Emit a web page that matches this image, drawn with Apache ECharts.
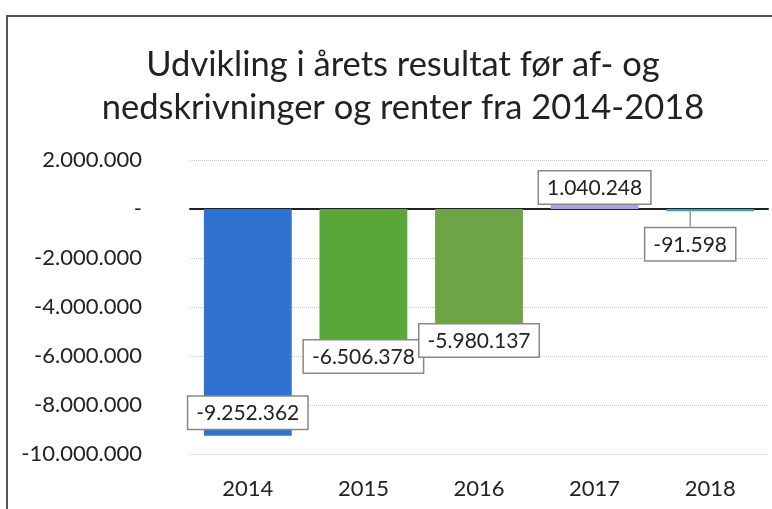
<!DOCTYPE html>
<html>
<head>
<meta charset="utf-8">
<script src="https://cdn.jsdelivr.net/npm/echarts@6/dist/echarts.min.js"></script>
<style>
  html, body { margin: 0; padding: 0; background: #fff; }
  #chart { width: 772px; height: 509px; }
</style>
</head>
<body>
<div id="chart"></div>
<script>
// data
const years = ['2014', '2015', '2016', '2017', '2018'];
const resultat = [-9252362, -6506378, -5980137, 1040248, -91598];
const barColors = ['#2f72cf', '#5aa739', '#6fa446', '#a3a3ea', '#36a3b6'];
const titleLines = ['Udvikling i årets resultat før af- og', 'nedskrivninger og renter fra 2014-2018'];

function dkNum(v) {
  if (v === 0) return '-';
  const s = Math.abs(Math.round(v)).toString().replace(/\B(?=(\d{3})+(?!\d))/g, '.');
  return (v < 0 ? '-' : '') + s;
}

const labelBox = {
  show: true,
  color: '#222',
  fontFamily: 'Lato',
  fontSize: 21,
  backgroundColor: '#fff',
  borderColor: '#888',
  borderWidth: 1.5,
  padding: [6, 8, 5, 8],
  formatter: p => dkNum(p.value)
};

const labelPos = [
  { position: 'insideBottom', distance: 7 },
  { position: 'insideBottom', distance: -4 },
  { position: 'insideBottom', distance: -1 },
  { position: 'top', distance: -20 },
  { position: 'bottom', distance: 17 }
];

const chart = echarts.init(document.getElementById('chart'));
chart.setOption({
  backgroundColor: '#fff',
  animation: false,
  title: {
    text: titleLines.join('\n'),
    left: 398,
    textAlign: 'center',
    top: 38,
    textStyle: { fontFamily: 'Lato', fontWeight: 'normal', fontSize: 34.5, lineHeight: 43, color: '#222' }
  },
  graphic: [{
    type: 'polyline',
    shape: { points: [[7, 509], [7, 16], [772, 16]] },
    style: { stroke: '#555', lineWidth: 2, fill: null }
  }],
  grid: { left: 190, right: 4, top: 160, bottom: 55 },
  xAxis: [{
    type: 'category',
    data: years,
    axisLine: { onZero: true, lineStyle: { color: '#222', width: 2 } },
    axisTick: { show: false },
    axisLabel: { show: false }
  }, {
    // second axis only carries the year labels below the plot area
    type: 'category',
    data: years,
    position: 'bottom',
    axisLine: { show: false },
    axisTick: { show: false },
    axisLabel: { color: '#222', fontFamily: 'Lato', fontSize: 22, margin: 24 }
  }],
  yAxis: {
    type: 'value',
    min: -10000000,
    max: 2000000,
    interval: 2000000,
    axisLine: { show: false },
    axisTick: { show: false },
    axisLabel: { color: '#222', fontFamily: 'Lato', fontSize: 22, margin: 48, formatter: v => dkNum(v) },
    splitLine: { lineStyle: { color: '#c8c8c8', type: 'dotted', width: 1 } }
  },
  series: [{
    type: 'bar',
    barWidth: '76%',
    data: resultat.map((v, i) => ({
      value: v,
      itemStyle: { color: barColors[i] },
      label: Object.assign({}, labelBox, labelPos[i]),
      labelLine: { show: i === 4, lineStyle: { color: '#999', width: 1.5 } }
    })),
    // the small 2018 label is pushed left, Excel draws a leader line to it
    labelLayout: p => (p.dataIndex === 4 ? { dx: -20 } : {})
  }]
});
</script>
</body>
</html>
